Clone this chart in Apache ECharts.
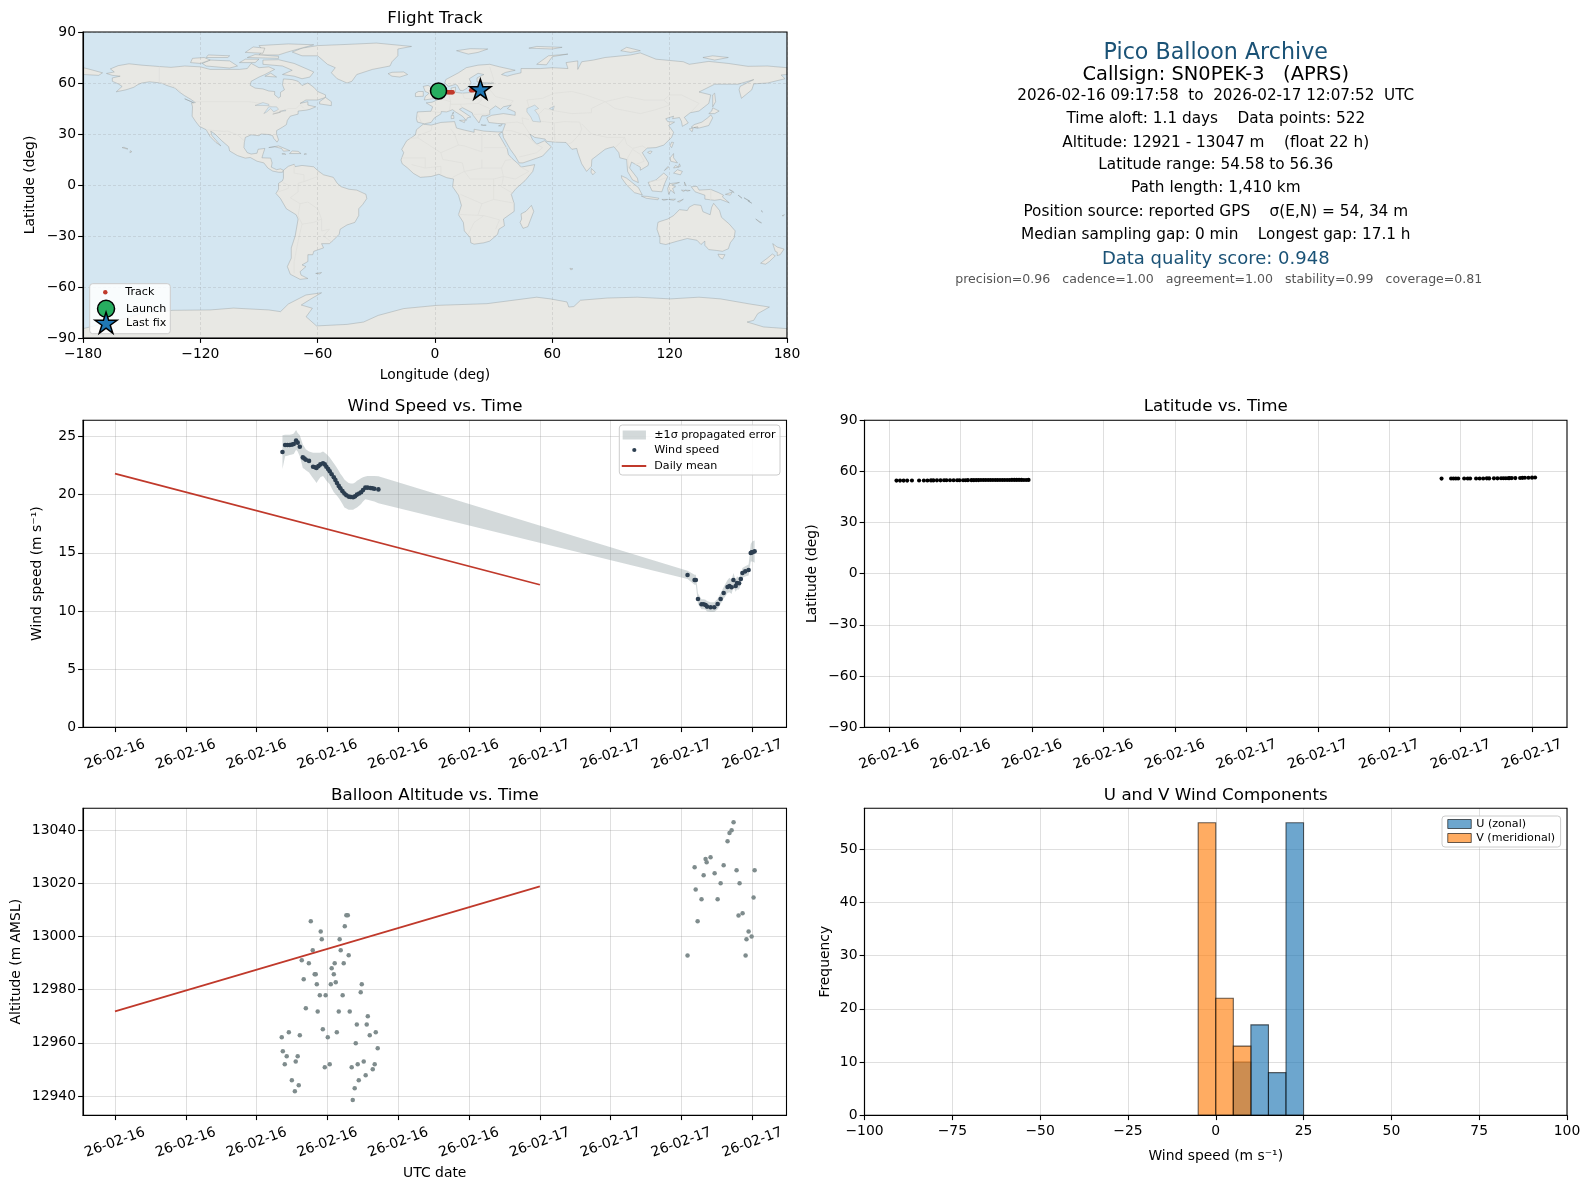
<!DOCTYPE html>
<html><head><meta charset="utf-8"><style>html,body{margin:0;padding:0;background:#fff}#c{width:1589px;height:1189px}</style>
<script src="https://cdn.jsdelivr.net/npm/echarts@6/dist/echarts.min.js"></script></head><body><div id="c"></div>
<script>
// ---------- DATA ----------
const infoLines = ['Pico Balloon Archive','Callsign: SN0PEK-3   (APRS)','2026-02-16 09:17:58  to  2026-02-17 12:07:52  UTC','Time aloft: 1.1 days    Data points: 522','Altitude: 12921 - 13047 m    (float 22 h)','Latitude range: 54.58 to 56.36','Path length: 1,410 km','Position source: reported GPS    σ(E,N) = 54, 34 m','Median sampling gap: 0 min    Longest gap: 17.1 h','Data quality score: 0.948','precision=0.96   cadence=1.00   agreement=1.00   stability=0.99   coverage=0.81'];
const lonTicks = [-180,-120,-60,0,60,120,180];
const latTicks = [-90,-60,-30,0,30,60,90];
const wideTimeTicks = [0,4,8,12,16,20,24,28,32,36];
const latTimeTicks = [9,12,15,18,21,24,27,30,33,36];
const windTicks = [0,5,10,15,20,25];
const altTicks = [12940,12960,12980,13000,13020,13040];
const histXTicks = [-100,-75,-50,-25,0,25,50,75,100];
const histYTicks = [0,10,20,30,40,50];

const windHours = [9.46,9.61,9.74,9.87,10.0,10.10,10.23,10.32,10.44,10.61,10.70,10.78,10.96,11.19,11.30,11.38,11.49,11.60,11.75,11.85,11.94,12.04,12.13,12.24,12.36,12.45,12.54,12.64,12.73,12.85,12.96,13.07,13.20,13.32,13.45,13.56,13.67,13.79,13.90,14.01,14.14,14.27,14.43,14.54,14.65,14.88, 32.34,32.74,32.81,32.93,33.13,33.25,33.36,33.44,33.64,33.85,34.04,34.21,34.38,34.60,34.71,34.83,34.93,35.06,35.13,35.25,35.35,35.44,35.60,35.79,35.91,35.97,36.01,36.13];
const windSpeed = [23.67,24.27,24.27,24.27,24.3,24.35,24.64,24.47,24.12,23.2,23.1,23.0,22.9,22.4,22.35,22.3,22.45,22.6,22.7,22.6,22.4,22.2,22.0,21.75,21.5,21.25,21.0,20.75,20.54,20.3,20.1,19.95,19.83,19.8,19.77,19.85,20,20.1,20.2,20.4,20.6,20.6,20.57,20.55,20.5,20.45, 13.09,12.66,12.66,11.03,10.57,10.57,10.51,10.37,10.31,10.31,10.6,11.03,11.54,12.06,12.14,12.03,12.66,12.14,12.4,12.38,12.74,13.26,13.4,13.52,14.98,15.05,15.05,15.12];
const windUpper = [25.1,25.15,25.15,25.15,25.2,25.25,25.55,25.3,25.1,24.3,24.1,23.9,23.7,23.6,23.6,23.6,23.6,23.6,23.7,23.6,23.5,23.35,23.2,22.95,22.7,22.5,22.3,22.05,21.8,21.55,21.3,21.15,21.0,20.95,20.95,21.05,21.2,21.3,21.4,21.5,21.55,21.6,21.6,21.6,21.6,21.57, 13.45,13.1,13.1,11.5,11.0,11.0,10.95,10.85,10.75,10.75,11.05,11.5,12.05,12.65,12.85,12.65,13.25,12.65,12.95,12.9,13.2,13.7,13.85,14.0,15.75,15.9,16.0,16.05];
const windLower = [22.2,23.3,23.35,23.4,23.45,23.5,23.85,23.7,23.3,22.3,22.2,22.1,21.9,21.4,21.2,21.0,21.25,21.5,21.6,21.4,21.2,21.05,20.9,20.55,20.2,20.05,19.9,19.7,19.5,19.2,18.9,18.8,18.7,18.7,18.7,18.8,18.9,19.05,19.2,19.4,19.6,19.55,19.5,19.45,19.4,19.25, 12.75,12.25,12.25,10.6,10.15,10.15,10.1,9.95,9.9,9.9,10.15,10.6,11.05,11.55,11.6,11.45,12.05,11.65,11.85,11.85,12.25,12.85,12.95,13.05,14.25,14.25,14.25,14.15];

const dailyHours = [0,24];
const dailyWind = [21.8,12.25];
const dailyAlt = [12971.8,13018.8];

const latHours = [9.3,9.45,9.6,9.75,9.95,10.25,10.45,10.6,10.75,10.85,11,11.15,11.3,11.4,11.55,11.7,11.85,11.95,12.1,12.2,12.3,12.45,12.55,12.65,12.75,12.85,12.95,13.05,13.15,13.25,13.35,13.45,13.55,13.65,13.75,13.85,13.95,14.05,14.15,14.25,14.35,14.45,14.55,14.65,14.75,14.85, 32.2,32.6,32.7,32.8,32.9,33.15,33.3,33.4,33.65,33.8,33.95,34.1,34.2,34.4,34.55,34.7,34.8,34.9,35,35.05,35.15,35.3,35.5,35.6,35.7,35.85,36,36.13];
const latValues = [54.6,54.6,54.58,54.6,54.62,54.65,54.65,54.68,54.7,54.7,54.72,54.72,54.75,54.75,54.78,54.78,54.8,54.8,54.82,54.82,54.85,54.85,54.85,54.88,54.88,54.9,54.9,54.9,54.92,54.92,54.92,54.95,54.95,54.95,54.95,54.98,54.98,54.98,55,55,55,55,55,54.98,54.98,55, 55.75,55.8,55.82,55.85,55.8,55.85,55.82,55.8,55.85,55.85,55.85,55.9,55.88,55.9,55.92,55.95,55.95,56,56,56.02,56.05,56.05,56.1,56.2,56.25,56.3,56.33,56.36];

const altHours = [11.06,11.62,11.68,11.17,10.55,10.95,11.28,11.34,10.66,11.40,11.57,11.90,10.78,11.45,11.74,12.02,12.53,9.42,9.82,10.44,9.48,9.70,10.32,10.21,9.59,9.99,10.38,10.16,11.85,12.13,13.07,13.15,12.98,12.69,12.75,13.20,12.41,12.92,12.24,12.36,12.47,12.19,13.94,13.88,12.86,12.64,13.26,14.28,13.66,14.22,14.73,14.39,13.60,14.84,14.05,13.71,14.67,13.37,14.56,14.16,13.77,13.54,13.43, 34.94,34.83,34.71,34.60,33.64,33.36,33.42,32.74,34.38,35.11,36.13,33.25,33.87,34.21,35.28,32.80,33.13,34.04,36.07,35.45,35.22,32.91,35.79,35.96,35.67,32.34,35.62];
const altValues = [13005.7,13001.9,12998.9,12994.8,12991,12989.9,12985.8,12985.8,12983.9,12982,12977.9,12977.9,12973,12971.8,12965.1,12962.1,12964,12962.1,12964,12962.8,12956.8,12954.9,12954.9,12953,12951.9,12945.9,12944,12941.8,12950.8,12951.9,13008,13008,13003.8,12998.9,12994.8,12992.9,12989.9,12989.9,12988,12985.8,12982.8,12982,12982,12979,12977.9,12971.8,12971.8,12970,12966.9,12966.9,12964,12962.8,12959.8,12957.9,12953,12951.9,12951.9,12950.8,12950,12947.8,12945.9,12942.9,12938.5, 13043,13040,13038.9,13035.8,13029.8,13029.1,13027.9,13026,13026.8,13024.9,13024.9,13023,13023.8,13020,13020,13017.7,13014,13014,13014.7,13008.7,13007.9,13005.7,13001.9,13000,12998.9,12992.8,12992.8];

const histEdges = [-5,0,5,10,15,20,25];
const histU = [0,0,10,17,8,55];
const histV = [55,22,13,0,0,0];

const trackLon = [2.2,3.5,4.8,5.6,6.2,6.8,7.4,8,8.6,9, 18.5,19.5,20.5,21.5,22.5,23.2];
const trackLat = [55,54.9,54.8,54.7,54.65,54.6,54.6,54.6,54.58,54.6, 55.75,55.8,55.85,55.95,56.1,56.3];
const launchPoint = [1.8,55.3];
const lastPoint = [23.2,56.36];

const landPolygons = [
 [[-168,65.6],[-164,66.5],[-166,68.3],[-162,70.2],[-156.5,71.3],[-150,70.5],[-141,69.7],[-135,69.2],[-128,70],[-120,69.5],[-115,68],[-108,68],[-100,68],[-96,68.5],[-94,71.5],[-90,69],[-85,69.5],[-82,68],[-87,65],[-90,63.5],[-94,61],[-94.5,58.7],[-92,57],[-88,56.5],[-85,55.3],[-82,55],[-82,53],[-80,51.2],[-79,52],[-79,54.5],[-77,56],[-78,59],[-77.5,62.4],[-73,62],[-70,61],[-68,58.5],[-65,60],[-62,57.5],[-60,55],[-56,53],[-56,51.5],[-60,50],[-66,50],[-69,48],[-65,49],[-65,47],[-61,46],[-64,44.5],[-66,44],[-70,43.5],[-70,41.7],[-74,40.5],[-75.5,38],[-76,35.5],[-78,34],[-81,32],[-81,30],[-80,26.5],[-80.8,25.2],[-82.5,27.5],[-83,29],[-85,29.7],[-89,30],[-90,29],[-94,29.5],[-97,28],[-97.5,25],[-97.7,22],[-96,19],[-94,18.2],[-91,18.7],[-90.5,21],[-87,21.5],[-88,18],[-88.5,16],[-84,15.8],[-83.3,13],[-83.7,10.5],[-81,9],[-79,9.5],[-77.5,8.7],[-78,7.5],[-80,7.5],[-83,8.2],[-85.5,10],[-87.5,13],[-91,14],[-94.5,16.2],[-97,15.8],[-101,17.3],[-105,20],[-105.5,22.5],[-109,26],[-112.5,30],[-114.7,31.7],[-114,29],[-111,25],[-109.5,23],[-112,25],[-115,28.5],[-117,32.5],[-120.5,34.5],[-122.5,37.5],[-124.2,40.5],[-124,46],[-124.5,48.3],[-122.5,48.5],[-125,50.5],[-128,52.5],[-130.5,54.5],[-133,57],[-137,58.5],[-140,60],[-146,60.7],[-150,60],[-152,59],[-154,57.5],[-158,56],[-163,54.8],[-160,58],[-162,59.5],[-165,61],[-165,63],[-161,64],[-165,64.5]],
 [[-73,78.2],[-68,76],[-60,76],[-55,71],[-51,69],[-53,66],[-50,62.5],[-45,60],[-42.5,61],[-40,65],[-32,68],[-23,70],[-22,72.5],[-19,76],[-19,80],[-12,81.5],[-30,83.5],[-45,82.7],[-60,82],[-68,80.5]],
 [[-80,73.7],[-72,71.5],[-67,69],[-62,66.5],[-64,63.5],[-68,62.5],[-72,64],[-78,65],[-73,67.5],[-78,70],[-88,71],[-88,73.5]],
 [[-117,70],[-105,68.8],[-101,70],[-105,73],[-115,73.5],[-119,71.5]],
 [[-125,72],[-120,71.5],[-115,73.5],[-118,75],[-124,74.5]],
 [[-90,76.5],[-80,76.5],[-76,78],[-70,80],[-62,82.5],[-75,83],[-90,82],[-88,79]],
 [[-96,75],[-80,74.5],[-80,75.7],[-92,76.7]],
 [[-117,75],[-106,75],[-105,76],[-116,76.5]],
 [[-100,72],[-92,72],[-90,74],[-97,74]],
 [[-97,78],[-88,77.5],[-87,80.5],[-93,81.2]],
 [[-87,64],[-81,63.5],[-84,65.8]],
 [[-59,47.7],[-53,46.7],[-53,49],[-56,51.5],[-59,49]],
 [[-128,50.7],[-123.5,48.4],[-125,49.2]],
 [[-85,22],[-80,23],[-74.2,20.2],[-77.5,19.9],[-78.5,21.5],[-82,22.5]],
 [[-74.4,18.5],[-68.5,18.5],[-70,19.8],[-73,20]],
 [[-78.3,18.3],[-76.3,18],[-77,18.5]],
 [[-67,18],[-65.7,18.2],[-66.5,18.5]],
 [[-156,19],[-155,19.6],[-155.8,20.2]],
 [[-160,22],[-158,21.3],[-157,21.2],[-159,22.2]],
 [[-77.5,8.7],[-75,11],[-72,12.2],[-71.5,10.8],[-68,11.5],[-62,10.7],[-60,8.5],[-57,6],[-52,4.5],[-50,1],[-48,-1],[-44,-2.5],[-40,-3],[-35.3,-5.5],[-34.9,-8],[-37,-11.5],[-39,-14],[-39,-18],[-41,-22],[-45,-23.5],[-48.5,-26],[-49,-29],[-52,-32.5],[-54,-34.5],[-58,-34.5],[-57,-37],[-62,-39],[-62.5,-41],[-65,-41],[-65,-45],[-68,-47],[-66,-48],[-69,-51],[-68.5,-53],[-65,-55],[-69,-55.5],[-74,-52.5],[-75.5,-48],[-73.5,-43],[-73.5,-37],[-71.5,-30],[-70,-20],[-71,-17.5],[-76,-14],[-79,-8],[-81.3,-5],[-80,-2.5],[-80,1],[-78,2.5],[-77.5,4],[-77.5,7]],
 [[-61,-52],[-58,-51.5],[-59,-52.3]],
 [[-6,35.8],[-2,35.2],[3,36.8],[10,37.3],[11,33.5],[15,32.3],[20,31],[20,32.8],[25,31.7],[32,31.2],[34.3,31.2],[32.5,29.8],[34,27],[37,21],[37.5,18],[39.5,15.5],[43,12],[44,10.5],[51,12],[50,8],[46,2.5],[41.5,-2],[39,-5.5],[40.5,-11],[40.5,-15.5],[35,-20],[35.5,-24],[32.7,-26],[32,-29],[28,-33],[25,-34],[20,-34.8],[18.3,-34],[18,-31],[15,-27],[14.5,-22],[12,-17.5],[13.5,-12],[12,-6],[9,-1],[9.5,3.5],[6,4.3],[2,6.3],[-2,5],[-7.5,4.5],[-11,6.8],[-14,10],[-16.8,12.5],[-17.4,14.7],[-16,19],[-17,21],[-14.5,26],[-10,29.5],[-9.5,32.5]],
 [[49.3,-12],[50.5,-15.5],[47.5,-24.5],[45,-25.5],[43.5,-22],[44.3,-20],[44,-17],[46.5,-15.5]],
 [[-9,37],[-9.5,39],[-9,43],[-2,43.4],[-1.2,46],[-4.5,48.3],[-1.5,48.7],[1.5,50.2],[4,52],[7,53.5],[8.5,54],[8.2,57],[10.5,57.6],[10.5,54.5],[14,54],[19,54.5],[21,55.5],[21.5,57.5],[24,57.2],[23.5,59.2],[28,59.6],[30,60],[25,60.2],[21.5,60.7],[21.5,63],[25,65],[22,65.7],[17.5,62.5],[18.5,60],[16.5,57],[14.2,55.5],[12.8,55.7],[11.5,58.5],[10.5,59.2],[7,58],[5,60],[5.5,62],[12,66],[16,69],[22,70.5],[28,71],[33,69.5],[41,67.5],[36,66.2],[34,65],[37,64],[40,65],[44,66],[44,68.5],[54,68.5],[60,69],[68,68.5],[67,72],[73,73],[73,68],[75,72.5],[81,73.5],[87,75],[100,76.5],[105,77.7],[113,74],[127,72.5],[130,71],[140,72.7],[150,71.5],[160,69.8],[170,70],[180,69],[180,65],[177,64.7],[179,62.5],[170,60],[163,59.5],[162,56],[156.7,51],[155.5,56],[156,58],[163,62],[155,59.3],[143,59.3],[135,54.7],[141,53],[140,48],[135,43.5],[130.5,42.5],[127.5,39.8],[129.5,36.5],[126.5,34.5],[126,37.5],[125,39.7],[121.5,39],[122,40.5],[118,39],[119,37.3],[122.5,37],[119.5,35],[122,31],[121,28],[117,23.5],[113,22],[108.5,21.7],[106,19],[109.2,13],[109,11.5],[105,8.7],[105,10.5],[100.5,13.5],[99.5,10],[103.5,4],[104,1.4],[101,3],[98.5,8],[98,15],[94.5,16],[94,19],[91.5,22.5],[89,21.8],[87,21],[82.5,17],[80.2,15],[80,11],[77.5,8],[75,12.5],[73,19],[72.5,21.5],[70,21],[67,25],[61.5,25.2],[57,25.7],[56.3,27],[51,28],[48.5,30],[50,26.5],[52,24],[56,26],[59.5,22.5],[55,17],[45,13],[43,13],[41,17],[38.5,21],[35,28],[34.5,31.2],[36,36],[32,36.2],[27.5,36.8],[26.5,39.5],[29,41],[35,42],[41,41],[41,43],[37,45],[39,47],[35,46],[33.5,44.5],[31,46.5],[28,44],[28,41.5],[26,40.7],[24,40.7],[23,38],[22.5,36.5],[19.5,41],[19,42.5],[14,45.5],[12.5,44.5],[16,41.8],[18.3,40],[16.5,39.5],[16,38],[14,40.5],[10.5,43],[9,44.3],[6,43],[3.2,43.2],[3,41.8],[-0.3,39.5],[-2,36.8],[-5.5,36]],
 [[-180,65],[-172,64.5],[-170,66],[-178,68.5],[-180,69]],
 [[-5.5,50],[1.3,51.2],[1.7,52.7],[-1.5,55],[-2,57.5],[-3.5,58.6],[-6,58],[-5,55],[-3,54],[-5,52]],
 [[-10,52],[-6,52.2],[-6,55],[-8.5,55],[-10,54]],
 [[-24,65.5],[-22,64],[-18,63.5],[-14,65],[-16,66.5],[-22,66.3]],
 [[11,79],[17,77],[22,78],[27,80],[18,80.2]],
 [[52,71],[57,70.7],[60,75.5],[68,77],[58,76]],
 [[12.5,38],[15.5,38.2],[15,36.7]],[[8.3,39],[9.7,39.2],[9.5,41],[8.3,40.8]],[[8.7,41.5],[9.5,42],[9.4,43]],[[23.5,35.4],[26.2,35.2],[24.8,35]],[[32.5,34.8],[34.4,35.6],[33.5,34.7]],
 [[48,80.5],[60,80],[65,81],[52,81.5]],[[95,79],[100,78],[105,79],[98,81]],[[137,75],[143,73.5],[150,75],[142,76]],
 [[80,9.7],[82,7.5],[80.7,6],[79.8,7.5]],
 [[131,34],[135,33.5],[140,35],[142,39.5],[141,41.3],[140,40],[136.5,37],[132.5,35.5]],
 [[140,42],[143,42],[145.3,43.5],[142,45.4],[141.5,43.5]],
 [[130,33],[131.5,31.3],[132,33.5]],[[132.5,33.8],[134.5,33.5],[134.3,34.3]],
 [[142,46],[143.5,49],[143,54],[142,53],[142,48]],
 [[120.2,23],[121,22],[122,25],[121,25.2]],[[108.7,19.2],[110,18.3],[111,19.7],[110,20]],
 [[120.3,16],[122,18.5],[122,16],[124,13],[120.5,14]],[[122,7],[125.5,6],[126.5,8],[124,9]],[[122,10],[124.5,10.5],[123,11.5]],[[124.5,10.5],[125.5,11],[125,12.5]],[[117.3,8.5],[119.5,10.5],[119,10.8]],
 [[109,1.5],[113,3],[117,7],[119,5],[117.5,1],[116,-4],[111,-3.5],[110,-1]],
 [[95.3,5.5],[98,4],[104,-1.5],[106,-5.8],[102,-4.5],[98,0],[95.5,4]],
 [[105.5,-6.5],[108.5,-6.7],[114.5,-7.8],[114,-8.7],[108,-7.8]],
 [[119.5,-5.5],[119,-2],[120,0.8],[125,1.5],[121,0],[123,-1],[121.5,-2],[122.5,-5],[120.5,-3]],
 [[127.5,1.8],[128.5,-0.5],[127.8,0]],[[126,-3],[128,-3.2],[127,-3.8]],[[128,-3],[130.5,-3.2],[129,-3.6]],
 [[131,-1],[134,-0.8],[135,-3],[141,-2.6],[145,-4.5],[147.5,-6],[147,-7],[150.5,-10.5],[146,-8.5],[143,-9],[138,-8.3],[138,-6],[133,-4]],
 [[148.5,-5.5],[152,-4.2],[151,-6]],[[150.5,-2.7],[153,-4.5],[152,-3.5]],
 [[116,-8.5],[119,-8.5],[117,-9]],[[119.5,-8.5],[123,-8.3],[122,-9]],[[124,-9.8],[127,-8.4],[125,-10]],
 [[155,-6],[157,-7.8],[156,-6.8]],[[158,-7.5],[161,-9.5],[159,-8.3]],[[160,-9.3],[162,-10.7],[161,-10]],
 [[164,-20],[167,-22.3],[166,-22]],[[177.5,-18],[178.7,-17.5],[178,-18.3]],[[167,-15],[167.5,-16],[167,-15.5]],
 [[172.7,-34.5],[175,-36.5],[178.5,-37.7],[176.5,-41],[175,-41.5],[175,-39.5],[174,-39]],
 [[172.5,-40.6],[174,-41.7],[171,-45],[169,-46.6],[166.5,-46],[170,-43]],
 [[144.7,-40.7],[148.3,-41],[147,-43.6],[145.5,-42.5]],
 [[114,-22],[113.5,-26],[115,-31],[115,-34.3],[118,-35],[124,-33],[129,-31.5],[134,-32.5],[136,-35],[138,-33],[138,-35.5],[140,-38],[144,-38.5],[147,-39],[150,-37.5],[151,-34],[153,-31],[153.5,-27],[150.5,-23],[146.5,-19],[145.5,-15],[142.5,-10.8],[141.5,-13],[140.7,-17.5],[137,-15.7],[136,-12],[132.5,-11.5],[130,-13],[129,-15],[125,-14.5],[122,-18],[119,-20],[115,-21.5]],
 [[69,-49],[70.5,-49.3],[69.5,-50]],
 [[-180,-84.5],[-160,-79],[-150,-75.5],[-134,-73.7],[-115,-73.5],[-103,-72.4],[-85,-73.5],[-79,-74.5],[-75,-70],[-66,-64.7],[-58,-63.4],[-63,-66.7],[-68.4,-70.6],[-62.7,-72.5],[-65.9,-77.5],[-60.6,-82.9],[-45,-82],[-36.5,-80.6],[-29,-76.7],[-16,-72.7],[1,-70.8],[26.6,-69.8],[52,-66],[59,-67],[67.5,-68.8],[68.4,-71.8],[71,-71.5],[74.4,-67.8],[88,-66.5],[103.4,-66],[120.4,-67],[135,-66],[146,-67],[161,-70],[171,-71.8],[165,-75.7],[163,-79.6],[159.6,-80.6],[168,-83.5],[180,-84.5],[180,-90],[-180,-90]]
];
const lakePolygons = [
 [[47,45],[51,47],[53,45],[51,44],[53,41],[54,37],[50,37.5],[49,40],[47,43]],
 [[-92,46.8],[-88,48.5],[-85,47.5],[-85,46.6],[-88,46.8]],
 [[-87.5,42],[-85,46],[-81,46],[-80,44.5],[-82.5,43],[-84,45],[-86,43]],
 [[-83,41.7],[-79,42.8],[-80,42.6]],[[-79.5,43.3],[-76.3,43.6],[-76.5,44.1]],
 [[58.5,45],[61,46.5],[60.5,44]]
];
const borderLines = [
 [[-141,69.7],[-141,60.2],[-135,59],[-130,55]],
 [[-123,49],[-95,49],[-89,48],[-84,46.5],[-82.5,43],[-79,43],[-75,45],[-71,45],[-69,47.3],[-67,45]],
 [[-117,32.5],[-108,31.5],[-106,31.7],[-101,29.5],[-97.5,26]],
 [[-70,-18],[-69,-11],[-74,-7.5],[-70,-4],[-70,1],[-67,2],[-60,5],[-60,8.5]],
 [[-58,-20],[-60,-14],[-65,-10],[-69,-11]],
 [[-58,-20],[-58,-27],[-54,-26],[-57,-30],[-53,-33.5]],
 [[-70,-18],[-68,-23],[-70,-33],[-72,-45],[-72,-52]],
 [[-68,-23],[-62,-22],[-58,-20]],
 [[-78,1.5],[-75,0],[-75,-2],[-80,-4]],
 [[-72,12],[-72,7],[-67,6],[-67,2]],
 [[-13,27.5],[-8.7,27.7],[-8.7,29],[-2,32],[-1.5,35]],
 [[-8.7,27.7],[3,19],[12,23.5],[15,23],[24,19.5],[24,31.5]],
 [[12,23.5],[10,30],[8,33]],
 [[25,22],[37,22]],
 [[24,15],[24,10],[34,10],[36,14.5],[39,15]],
 [[3,19],[4,15],[14,13],[15,8],[9,4.5]],
 [[-17,16],[-5,16],[-5,10],[3,11],[3,6.5]],
 [[-12,12],[-5,10]],[[15,8],[24,10]],
 [[34,10],[35,5],[41,3.5],[48,8],[43,11]],
 [[35,5],[34,-1],[39.5,-4.7]],
 [[15,8],[18,3.5],[30,3.5],[35,5]],
 [[13,-5.5],[24,-11],[30,-8.5],[30,-1],[30,3.5]],
 [[12,-17.3],[25,-18],[33,-20.5],[31,-26]],
 [[17,-29],[20,-22],[25,-18]],
 [[24,-11],[22,-17.5]],[[40.5,-10.7],[30,-8.5]],
 [[28,59.6],[28,56],[31,52],[40,49.5],[38,47]],
 [[28,69.5],[30,62],[28,60]],
 [[48,46],[47,50],[55,51],[61,54],[70,55],[77,53],[87,49]],
 [[87,49],[98,52],[107,50],[117,50],[120,53],[126,53],[135,48],[131,43]],
 [[87,49],[92,45],[105,42],[112,44],[120,47],[117,50]],
 [[53,41.5],[56,45],[62,43.5],[70,42],[80,42.5],[80,45],[87,49]],
 [[44.5,39.5],[48,38.5]],[[44.5,39.5],[45,36],[48.5,30]],
 [[54,37.5],[61,36.5],[61,30],[61.5,25]],
 [[61,36.5],[66,37.3],[74,37],[75,33],[74,30],[70,25],[68,24]],
 [[75,36],[80,30],[88,28],[97,28],[98,24],[101,21.5],[106,23],[108,21.6]],
 [[92,22],[94,24],[97,28]],
 [[99,10],[98.5,16],[101,21],[105,18],[107,14],[102.5,12]],
 [[36,32],[39,32],[47,29],[51,24.5],[55,22],[52,19],[45,17],[43,16.5]],
 [[36,36.5],[42,37],[45,36]],
 [[-9,42],[-7,37]],[[-2,43.4],[3,42.5]],
 [[2,51],[8,49],[7.5,44]],[[8,49],[7,53.5]],
 [[14,54],[15,51],[24,50],[23.5,54],[21,55]],
 [[24,50],[22,48],[28,45]],[[13,47.5],[22,48]],
 [[13.7,45.6],[13,47.5],[8,47.5]],[[19.5,41.5],[28,41.8]],
 [[141,-2.6],[141,-9]],[[109.6,2],[115,3],[118,4.2]]
];

// ---------- LAYOUT / STYLE ----------
const FONT = '"DejaVu Sans"';
const panels = [
 {l:83,t:32,w:704,h:306},{l:83,t:420.2,w:703.5,h:307},{l:864.5,t:420.2,w:702.5,h:307},{l:83,t:808.2,w:703.5,h:307},{l:864.5,t:808.2,w:702.5,h:307}
];
const grids = panels.map(p=>({left:p.l,top:p.t,width:p.w,height:p.h,show:false,containLabel:false}));
grids[0].show = true; grids[0].backgroundColor = '#d4e6f1'; grids[0].borderWidth = 0;

const gridLine = {show:true,lineStyle:{color:'rgba(150,150,150,0.3)',width:1}};
const mapGridLine = {show:true,lineStyle:{color:'rgba(128,128,128,0.32)',width:0.6,type:[3,2]}};
const axisBase = (idx,ticks,min,max,extra)=>Object.assign({
  type:'value',gridIndex:idx,min,max,
  axisLine:{show:true,onZero:false,lineStyle:{color:'#000',width:1.1}},
  axisTick:{show:true,length:4.9,customValues:ticks,lineStyle:{color:'#000',width:1.1}},
  axisLabel:{customValues:ticks,fontFamily:FONT,fontSize:13.9,color:'#000',margin:7,hideOverlap:false,showMinLabel:true,showMaxLabel:true,
    formatter:v=>String(v).replace('-','\u2212')},
  splitLine:gridLine,
  nameLocation:'middle',nameTextStyle:{fontFamily:FONT,fontSize:13.9,color:'#000'}
},extra||{});
const timeLabel = {fontFamily:FONT,fontSize:13.9,color:'#000',rotate:20,align:'center',verticalAlign:'middle',margin:27.5,hideOverlap:false,showMinLabel:true,showMaxLabel:true,
  formatter:v=>v<24?'26-02-16':'26-02-17'};
const timeAxis = (idx,ticks,min,max,extra)=>{
  const a = axisBase(idx,ticks,min,max,extra);
  a.axisLabel = Object.assign({customValues:ticks},timeLabel);
  return a;
};
const xAxes = [
 axisBase(0,lonTicks,-180,180,{name:'Longitude (deg)',nameGap:30,splitLine:mapGridLine,z:5}),
 timeAxis(1,wideTimeTicks,-1.806,37.93),
 timeAxis(2,latTimeTicks,7.957,37.47),
 timeAxis(3,wideTimeTicks,-1.806,37.93,{name:'UTC date',nameGap:51}),
 axisBase(4,histXTicks,-100,100,{name:'Wind speed (m s\u207B\u00B9)',nameGap:34.5})
];
xAxes[0].axisLabel.margin = 9; xAxes[4].axisLabel.margin = 9;
const yAxes = [
 axisBase(0,latTicks,-90,90,{name:'Latitude (deg)',nameGap:46,splitLine:mapGridLine,z:5}),
 axisBase(1,windTicks,0,26.4,{name:'Wind speed (m s\u207B\u00B9)',nameGap:38.5}),
 axisBase(2,latTicks,-90,90,{name:'Latitude (deg)',nameGap:45}),
 axisBase(3,altTicks,12932.75,13048.25,{name:'Altitude (m AMSL)',nameGap:60}),
 axisBase(4,histYTicks,0,57.75,{name:'Frequency',nameGap:32})
];
yAxes.forEach(a=>{a.axisLabel.padding=[2,0,0,0];});

// titles
const cx = [435,1215.75];
const titleAt = (text,x,cy,size,color)=>({text,left:x,top:cy-size*0.6,textAlign:'center',padding:0,
  textStyle:{fontFamily:FONT,fontSize:size,fontWeight:'normal',color:color||'#000',lineHeight:size*1.2}});
const titles = [
 titleAt('Flight Track',cx[0],19,16.7),
 titleAt('Wind Speed vs. Time',cx[0],407,16.7),
 titleAt('Latitude vs. Time',cx[1],407,16.7),
 titleAt('Balloon Altitude vs. Time',cx[0],796,16.7),
 titleAt('U and V Wind Components',cx[1],796,16.7)
];
const infoY = [53.2,75,96.2,119.1,142.9,165.2,188.5,211.8,235,259.4,279.7];
const infoS = [22.2,19.4,15.2,15.3,15.3,15.3,15.3,15.3,15.3,18,12.57];
const infoC = ['#1a5276','#000','#000','#000','#000','#000','#000','#000','#000','#1a5276','#555555'];
const infoX = [0,0,0,0,0,0,0,0,0,0,3];
infoLines.forEach((t,i)=>titles.push(titleAt(t,cx[1]+infoX[i],infoY[i],infoS[i],infoC[i])));

// custom renders
const polyRender = (polys,style)=>(params,api)=>({type:'group',children:polys.map(pg=>({type:'polygon',
  shape:{points:pg.map(p=>api.coord(p))},style}))});
const lineRender = (lines,style)=>(params,api)=>({type:'group',children:lines.map(pg=>({type:'polyline',
  shape:{points:pg.map(p=>api.coord(p))},style}))});
const zip = (a,b)=>a.map((v,i)=>[v,b[i]]);
const STAR = 'path://M0 -100L22.45 -30.9L95.1 -30.9L36.3 11.8L58.8 80.9L0 38.2L-58.8 80.9L-36.3 11.8L-95.1 -30.9L-22.45 -30.9Z';
const silent = {animation:false,silent:true};
const histRender = (counts,fill)=>(params,api)=>({type:'group',children:counts.map((c,i)=>{
  if(!c) return null;
  const a = api.coord([histEdges[i],c]), b = api.coord([histEdges[i+1],0]);
  return {type:'rect',shape:{x:a[0],y:a[1],width:b[0]-a[0],height:b[1]-a[1]},style:{fill,stroke:'rgba(0,0,0,0.6)',lineWidth:1.1}};
}).filter(Boolean)});
const bandPoly = [].concat(zip(windHours,windUpper),zip(windHours,windLower).reverse());

const series = [
 Object.assign({type:'custom',name:'land',xAxisIndex:0,yAxisIndex:0,clip:true,z:1,data:[[0,0]],
   renderItem:polyRender(landPolygons,{fill:'#e8e8e4',stroke:'rgba(130,135,135,0.42)',lineWidth:0.8})},silent),
 Object.assign({type:'custom',name:'borders',xAxisIndex:0,yAxisIndex:0,clip:true,z:1.5,data:[[0,0]],
   renderItem:lineRender(borderLines,{fill:'none',stroke:'#dfe0dc',lineWidth:0.8})},silent),
 Object.assign({type:'custom',name:'lakes',xAxisIndex:0,yAxisIndex:0,clip:true,z:1.6,data:[[0,0]],
   renderItem:polyRender(lakePolygons,{fill:'#d4e6f1',stroke:'rgba(130,135,135,0.35)',lineWidth:0.7})},silent),
 Object.assign({type:'scatter',name:'Track',xAxisIndex:0,yAxisIndex:0,z:10,symbolSize:4.5,itemStyle:{color:'#c0392b',opacity:1},data:zip(trackLon,trackLat)},silent),
 Object.assign({type:'scatter',name:'Launch',xAxisIndex:0,yAxisIndex:0,z:11,symbolSize:16,itemStyle:{color:'#27ae60',borderColor:'#000',borderWidth:1.5,opacity:1},data:[launchPoint]},silent),
 Object.assign({type:'scatter',name:'Last fix',xAxisIndex:0,yAxisIndex:0,z:12,symbol:STAR,symbolKeepAspect:true,symbolSize:21,itemStyle:{color:'#1f77b4',borderColor:'#000',borderWidth:1.5,opacity:1},data:[lastPoint]},silent),

 Object.assign({type:'custom',name:'\u00B11\u03C3 propagated error',xAxisIndex:1,yAxisIndex:1,clip:true,z:2,data:[[0,0]],itemStyle:{color:'rgba(149,165,166,0.4)'},
   renderItem:polyRender([bandPoly],{fill:'rgba(149,165,166,0.42)',stroke:'none'})},silent),
 Object.assign({type:'scatter',name:'Wind speed',xAxisIndex:1,yAxisIndex:1,z:4,symbolSize:4.6,itemStyle:{color:'#2c3e50',opacity:1},data:zip(windHours,windSpeed)},silent),
 Object.assign({type:'line',name:'Daily mean',xAxisIndex:1,yAxisIndex:1,z:3,showSymbol:false,lineStyle:{color:'#c0392b',width:1.8},itemStyle:{color:'#c0392b'},data:zip(dailyHours,dailyWind)},silent),

 Object.assign({type:'scatter',name:'Latitude',xAxisIndex:2,yAxisIndex:2,z:4,symbolSize:4.1,itemStyle:{color:'#000',opacity:1},data:zip(latHours,latValues)},silent),

 Object.assign({type:'scatter',name:'Altitude',xAxisIndex:3,yAxisIndex:3,z:3,symbolSize:4.5,itemStyle:{color:'#7f8c8d',opacity:1},data:zip(altHours,altValues)},silent),
 Object.assign({type:'line',name:'Daily mean altitude',xAxisIndex:3,yAxisIndex:3,z:4,showSymbol:false,lineStyle:{color:'#c0392b',width:1.8},data:zip(dailyHours,dailyAlt)},silent),

 Object.assign({type:'custom',name:'U (zonal)',xAxisIndex:4,yAxisIndex:4,z:3,data:[[0,0]],itemStyle:{color:'rgba(31,119,180,0.65)'},renderItem:histRender(histU,'rgba(31,119,180,0.65)')},silent),
 Object.assign({type:'custom',name:'V (meridional)',xAxisIndex:4,yAxisIndex:4,z:4,data:[[0,0]],itemStyle:{color:'rgba(255,127,14,0.65)'},renderItem:histRender(histV,'rgba(255,127,14,0.65)')},silent)
];

// legends (one component per row so each key keeps its own size)
const legendRow = (name,textX,iconCx,cy,w,h,icon,itemStyle)=>{
  const box = Math.max(h,14), left = iconCx-w/2;
  return {show:true,orient:'vertical',selectedMode:false,padding:0,z:101,
    left,top:cy-box/2,itemWidth:w,itemHeight:h,symbolKeepAspect:true,
    textStyle:{fontFamily:FONT,fontSize:11.1,color:'#000',lineHeight:14,padding:[0,0,0,Math.max(0,textX-(left+w+5))]},
    data:[{name,icon,itemStyle,lineStyle:{width:0}}]};
};
const legends = [
 legendRow('Track',125.3,105.3,292.3,4.5,4.5,'circle',{color:'#c0392b',borderWidth:0}),
 legendRow('Launch',125.3,105.3,308,17,17,'circle',{color:'#27ae60',borderColor:'#000',borderWidth:1.5}),
 legendRow('Last fix',125.3,105.3,322,22,21,STAR,{color:'#1f77b4',borderColor:'#000',borderWidth:1.5}),
 legendRow('\u00B11\u03C3 propagated error',654.3,634.3,435,23.3,9,'rect',{color:'rgba(149,165,166,0.42)'}),
 legendRow('Wind speed',654.3,634.3,450,4.2,4.2,'circle',{color:'#2c3e50'}),
 legendRow('Daily mean',654.3,634,466,24.5,2,'rect',{color:'#c0392b'}),
 legendRow('U (zonal)',1475.5,1459,824,23.5,9,'rect',{color:'rgba(31,119,180,0.65)',borderColor:'rgba(0,0,0,0.6)',borderWidth:1}),
 legendRow('V (meridional)',1475.5,1459,838,23.5,9,'rect',{color:'rgba(255,127,14,0.65)',borderColor:'rgba(0,0,0,0.6)',borderWidth:1})
];

const framePanels = panels.map(p=>({type:'rect',z:50,silent:true,shape:{x:p.l,y:p.t,width:p.w,height:p.h},style:{fill:'none',stroke:'#000',lineWidth:1.1}}));
const legendFrames = [
 {x:89.7,y:283.7,w:80.6,h:50},{x:619.3,y:425,w:160.7,h:50},{x:1442,y:816,w:118.6,h:31}
].map(f=>({type:'rect',z:100,silent:true,shape:{x:f.x,y:f.y,width:f.w,height:f.h,r:3},style:{fill:'rgba(255,255,255,0.85)',stroke:'#cccccc',lineWidth:1}}));

const chart = echarts.init(document.getElementById('c'),null,{width:1589,height:1189});
chart.setOption({animation:false,backgroundColor:'#fff',textStyle:{fontFamily:FONT},
  title:titles,grid:grids,xAxis:xAxes,yAxis:yAxes,series,legend:legends,
  graphic:{elements:framePanels.concat(legendFrames)}});
</script></body></html>
